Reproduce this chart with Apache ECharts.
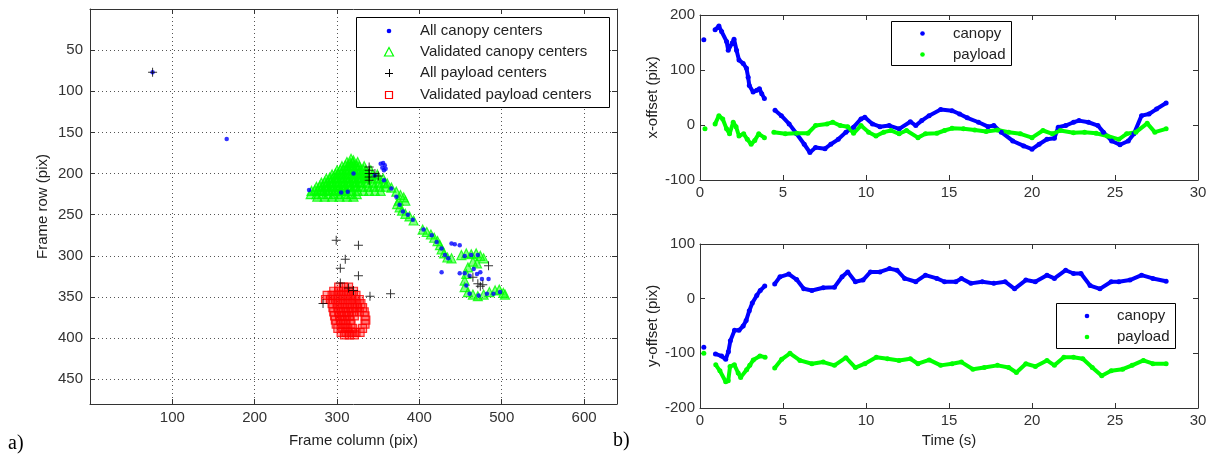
<!DOCTYPE html>
<html>
<head>
<meta charset="utf-8">
<script src="https://cdn.jsdelivr.net/npm/echarts@6/dist/echarts.min.js"></script>
<style>
  html, body { margin: 0; padding: 0; background: #fff; }
  #chart { width: 1210px; height: 455px; }
</style>
</head>
<body>
<div id="chart"></div>
<script>
// a) detected centres in the image frame, [column, row]
const allCanopy = [
  [76, 77], [166, 158], [266, 220], [305, 223], [313, 222], [320, 200],
  [353, 188], [356, 187], [358, 190], [355, 193], [359, 194], [357, 196], [346, 202], [357, 208],
  [366, 218], [372, 228], [376, 238], [380, 246], [386, 250], [392, 256], [405, 268], [415, 275],
  [421, 283], [427, 291], [431, 299], [435, 303], [439, 285], [443, 286], [449, 287], [427, 320],
  [455, 300], [463, 299], [471, 299], [449, 321], [455, 321], [461, 324], [466, 316], [470, 322],
  [474, 320], [476, 328], [484, 328], [457, 336], [461, 346], [472, 348], [482, 346], [490, 346],
  [498, 344]
];
const validCanopy = [
  [317, 182], [320, 184],
  [312, 186], [316, 187], [319, 186], [325, 186],
  [306, 191], [310, 190], [313, 191], [317, 190], [320, 191], [324, 190], [327, 191], [333, 191],
  [300, 196], [304, 195], [307, 196], [311, 195], [314, 196], [318, 195], [321, 196], [325, 195], [328, 196], [332, 195], [335, 196], [341, 196],
  [294, 201], [298, 200], [301, 201], [305, 200], [308, 201], [312, 200], [315, 201], [319, 200], [322, 201], [326, 200], [329, 201], [333, 200], [336, 201], [343, 201], [349, 201],
  [287, 206], [291, 205], [294, 206], [298, 205], [301, 206], [305, 205], [308, 206], [312, 205], [315, 206], [319, 205], [322, 206], [326, 205], [329, 206], [333, 205], [336, 206], [343, 206], [350, 206], [356, 206],
  [281, 211], [285, 210], [288, 211], [292, 210], [295, 211], [299, 210], [302, 211], [306, 210], [309, 211], [313, 210], [316, 211], [320, 210], [323, 211], [327, 210], [330, 211], [337, 211], [344, 211], [351, 211], [358, 211],
  [275, 216], [279, 215], [282, 216], [286, 215], [289, 216], [293, 215], [296, 216], [300, 215], [303, 216], [307, 215], [310, 216], [314, 215], [317, 216], [321, 215], [324, 216], [331, 216], [338, 216], [345, 216], [352, 216], [359, 216],
  [269, 221], [273, 220], [276, 221], [280, 220], [283, 221], [287, 220], [290, 221], [294, 220], [297, 221], [301, 220], [304, 221], [308, 220], [311, 221], [318, 221], [325, 221], [332, 221], [339, 221], [346, 221], [353, 221],
  [268, 225], [275, 225], [282, 225], [289, 225], [296, 225], [303, 225], [310, 225], [317, 225], [324, 225],
  [276, 228], [285, 228], [294, 228], [303, 228], [312, 228], [320, 228],
  [361, 212], [366, 217], [372, 222], [377, 226], [381, 229], [383, 233], [375, 233], [373, 237],
  [376, 241], [379, 245], [383, 249], [388, 252], [393, 257],
  [404, 268], [409, 271], [414, 274], [418, 278], [422, 282], [425, 287], [427, 292], [430, 297],
  [434, 302], [439, 303],
  [451, 299], [457, 297], [463, 298], [469, 297], [474, 300], [478, 303],
  [470, 309], [465, 307], [459, 314], [457, 322], [455, 330], [455, 338], [459, 344],
  [465, 347], [471, 349], [478, 347], [485, 344], [492, 342], [497, 341], [502, 345], [504, 347]
];
const allPayload = [
  [76, 77], [339, 192], [339, 196], [339, 200], [339, 204], [339, 208], [346, 200], [350, 203],
  [299, 281], [326, 287], [310, 304], [304, 315], [326, 324], [304, 333], [314, 339], [320, 342],
  [340, 349], [365, 346], [283, 358], [484, 312], [465, 326], [471, 334], [477, 335], [474, 337]
];
const validPayload = [
  [302, 338], [308, 338], [314, 338],
  [296, 343], [302, 343], [308, 343], [314, 343], [320, 343],
  [288, 348], [294, 348], [300, 348], [306, 348], [312, 348], [318, 348], [323, 348],
  [286, 353], [292, 353], [298, 353], [304, 353], [310, 353], [316, 353], [322, 353], [327, 353],
  [294, 358], [300, 358], [306, 358], [312, 358], [318, 358], [324, 358], [329, 358],
  [295, 363], [301, 363], [307, 363], [313, 363], [319, 363], [325, 363], [331, 363],
  [296, 368], [302, 368], [308, 368], [314, 368], [320, 368], [327, 368], [333, 368],
  [297, 373], [303, 373], [309, 373], [315, 373], [321, 373], [334, 373],
  [298, 378], [304, 378], [310, 378], [316, 378], [335, 378],
  [299, 383], [305, 383], [311, 383], [317, 383], [334, 383],
  [301, 388], [307, 388], [313, 388], [319, 388], [331, 388],
  [305, 393], [311, 393], [317, 393], [323, 393], [328, 393],
  [309, 396], [315, 396], [321, 396]
];
const framePointNames = [
  'All canopy centers', 'Validated canopy centers', 'All payload centers', 'Validated payload centers'
];

// b) offsets against time (s); null marks a gap in the track
const tXCanopy = [0.23, 0.6, 0.91, 1.14, 1.3, 1.6, 1.7, 1.94, 2.05, 2.2, 2.35, 2.6, 2.8, 2.9, 2.97,
  3.2, 3.42, 3.58, 3.72, 3.88, 4.2, 4.52, 4.9, 5.37, 5.82, 6.28, 6.62, 6.96, 7.53, 7.88, 8.33, 8.79,
  9.25, 9.7, 9.93, 10.39, 10.84, 11.4, 12, 12.67, 13, 13.36, 13.8, 14.5, 15.18, 15.64, 16.1, 16.78,
  17.35, 17.7, 18.15, 18.84, 19.5, 20, 20.43, 20.9, 21.35, 21.58, 22.03, 22.5, 22.83, 23.4, 23.97,
  24.3, 24.8, 25.3, 25.8, 26.14, 26.6, 27.05, 27.5, 28.08];
const xCanopy = [155, null, 173, 180, 170, 152, 136, 149, 156, 136, 118, 112, 103, 87, 72,
  60, 63, 66, 57, 48, null, 27, 17, 2, -16, -35, -50, -41, -43, -35, -26, -13,
  -4, 11, 14, 2, -3, -1, -7, 6, -1, 8, 17, 28, 26, 20, 13, 5,
  -3, -1, -13, -29, -38, -44, -35, -26, -24, -4, -1, 5, 8, 5, -1,
  -13, -29, -36, -29, -16, 17, 20, 29, 40];
const tXPayload = [0.3, 0.6, 0.91, 1.14, 1.37, 1.6, 1.78, 2.0, 2.17, 2.35, 2.63, 2.85, 3.08, 3.3,
  3.54, 3.88, 4.2, 4.45, 5.14, 5.82, 6.5, 6.96, 7.65, 8, 8.45, 8.9, 9.25, 9.7, 10.16, 10.6, 11.07,
  11.5, 12, 12.44, 13.13, 13.58, 14.27, 14.73, 15.18, 15.87, 16.55, 17.24, 17.92, 18.6, 19.3, 20,
  20.66, 21.23, 21.7, 22.5, 23.17, 23.86, 24.54, 25.23, 25.7, 26.26, 26.94, 27.4, 28.08];
const xPayload = [-7, null, 2, 17, 11, -7, -16, 5, -3, -20, -16, -26, -35, -28,
  -16, -23, null, -13, -16, -15, -15, -1, 2, 5, -1, -3, -15, -1, -13, -20, -13,
  -10, -16, -10, -23, -16, -15, -10, -6, -7, -9, -12, -9, -13, -16, -23,
  -10, -16, -10, -14, -13, -15, -20, -26, -16, -13, 3, -13, -7];
const tYCanopy = [0.23, 0.6, 0.93, 1.3, 1.55, 1.71, 1.83, 2.08, 2.35, 2.6, 2.78, 2.97, 3.15, 3.42,
  3.63, 3.9, 4.2, 4.5, 4.82, 5.35, 5.82, 6.25, 6.74, 7.42, 8.1, 8.56, 8.9, 9.36, 9.82, 10.27, 10.84,
  11.42, 11.87, 12.33, 13.0, 13.58, 14.27, 14.73, 15.41, 15.75, 16.32, 17.0, 17.7, 18.38, 18.95,
  19.63, 20.2, 20.9, 21.35, 22.03, 22.5, 22.95, 23.5, 24.09, 24.77, 25.23, 25.9, 26.6, 27.28, 28.08];
const yCanopy = [-89, null, -101, -105, -111, -97, -77, -58, -58, -50, -40, -22, -8, 6,
  15, 23, null, 27, 40, 45, 35, 18, 15, 20, 21, 40, 49, 31, 34, 49, 49,
  55, 52, 37, 31, 43, 37, 31, 31, 37, 28, 31, 28, 31, 18,
  34, 31, 43, 37, 52, 46, 46, 24, 18, 31, 31, 34, 43, 37, 32];
const tYPayload = [0.23, 0.6, 0.95, 1.2, 1.55, 1.7, 1.81, 2.07, 2.3, 2.45, 2.81, 3.0, 3.21, 3.61,
  3.92, 4.2, 4.5, 4.92, 5.42, 6.02, 6.74, 7.42, 8.1, 8.79, 9.36, 9.93, 10.62, 11.3, 11.99, 12.67,
  13.13, 13.81, 14.5, 15.18, 15.75, 16.44, 17.12, 17.92, 18.6, 19.06, 19.63, 20.2, 20.9, 21.35,
  21.92, 22.5, 23.06, 23.63, 24.2, 24.77, 25.46, 26.03, 26.71, 27.28, 28.08];
const yPayload = [-100, null, -121, -132, -152, -150, -124, -121, -136, -144, -130, -122, -112, -105,
  -107, null, -127, -111, -100, -113, -119, -116, -122, -108, -126, -119, -107, -110, -113, -110,
  -119, -112, -122, -119, -116, -129, -126, -122, -126, -135, -119, -124, -113, -122,
  -107, -107, -110, -126, -141, -132, -129, -122, -113, -119, -119];
const trackNames = ['canopy', 'payload'];

const FONT = '"Liberation Sans", Arial, sans-serif';
const INK = '#333';
const BLUE = '#0000ff', GREEN = '#00ff00', RED = '#ff0000';

const track = (t, v) => t.map((ti, i) => [ti, v[i] === null ? '-' : v[i]]);

// main axis plus a bare mirror on the opposite side, MATLAB "box on" style
function axisPair(dim, gridIndex, min, max, interval, cfg) {
  const base = {
    type: 'value', gridIndex, min, max, interval, inverse: !!cfg.inverse,
    axisLine: { show: true, onZero: false, lineStyle: { color: INK, width: 1 } },
    axisTick: { show: true, inside: true, length: 5, lineStyle: { color: INK, width: 1 } },
    splitLine: { show: false },
  };
  const main = Object.assign({}, base, {
    position: dim === 'x' ? 'bottom' : 'left',
    axisLabel: {
      color: INK, fontSize: 15, fontFamily: FONT, margin: cfg.margin,
      showMinLabel: true, showMaxLabel: true,
      formatter: cfg.formatter || (v => String(v)),
    },
    splitLine: cfg.grid
      ? { show: true, lineStyle: { color: '#555', width: 1, type: [1, 3] } }
      : { show: false },
  });
  if (cfg.name) {
    Object.assign(main, {
      name: cfg.name, nameLocation: 'middle', nameGap: cfg.nameGap,
      nameTextStyle: { color: '#222', fontSize: 15, fontFamily: FONT },
    });
  }
  const mirror = Object.assign({}, base, {
    position: dim === 'x' ? 'top' : 'right',
    axisLabel: { show: false },
  });
  return [main, mirror];
}

const hideEnds = (lo, hi) => v => (v === lo || v === hi ? '' : String(v));

const xAxes = [
  ...axisPair('x', 0, 0, 640, 100, { grid: true, margin: 6, formatter: hideEnds(0, 640), name: 'Frame column (pix)', nameGap: 29 }),
  ...axisPair('x', 1, 0, 30, 5, { margin: 5 }),
  ...axisPair('x', 2, 0, 30, 5, { margin: 5, name: 'Time (s)', nameGap: 25 }),
];
const yAxes = [
  ...axisPair('y', 0, 0, 480, 50, { grid: true, inverse: true, margin: 7, formatter: hideEnds(0, 480), name: 'Frame row (pix)', nameGap: 40 }),
  ...axisPair('y', 1, -100, 200, 100, { margin: 5, name: 'x-offset (pix)', nameGap: 40 }),
  ...axisPair('y', 2, -200, 100, 100, { margin: 5, name: 'y-offset (pix)', nameGap: 40 }),
];

const scatterBase = { type: 'scatter', xAxisIndex: 0, yAxisIndex: 0, silent: true, emphasis: { disabled: true } };
const lineBase = {
  type: 'line', showSymbol: true, showAllSymbol: true, symbol: 'circle', symbolSize: 5,
  connectNulls: false, silent: true, emphasis: { disabled: true }, lineStyle: { width: 4 },
};

const series = [
  Object.assign({}, scatterBase, {
    name: framePointNames[1], data: validCanopy, symbol: 'triangle', symbolSize: 9,
    itemStyle: { color: 'rgba(0,255,0,0.6)', borderColor: GREEN, borderWidth: 1.2 },
  }),
  Object.assign({}, scatterBase, {
    name: framePointNames[3], data: validPayload, symbol: 'rect', symbolSize: 8,
    itemStyle: { color: 'rgba(255,0,0,0.4)', borderColor: RED, borderWidth: 1.2 },
  }),
  Object.assign({}, scatterBase, {
    name: framePointNames[0], data: allCanopy, symbol: 'circle', symbolSize: 4.5,
    itemStyle: { color: BLUE },
  }),
  Object.assign({}, scatterBase, {
    name: framePointNames[2], data: allPayload, symbol: 'path://M4,0h1v9h-1z M0,4h9v1h-9z', symbolSize: 9,
    itemStyle: { color: '#000' },
  }),
  Object.assign({}, lineBase, { name: 'x ' + trackNames[0], xAxisIndex: 2, yAxisIndex: 2, data: track(tXCanopy, xCanopy), color: BLUE }),
  Object.assign({}, lineBase, { name: 'x ' + trackNames[1], xAxisIndex: 2, yAxisIndex: 2, data: track(tXPayload, xPayload), color: GREEN }),
  Object.assign({}, lineBase, { name: 'y ' + trackNames[0], xAxisIndex: 4, yAxisIndex: 4, data: track(tYCanopy, yCanopy), color: BLUE }),
  Object.assign({}, lineBase, { name: 'y ' + trackNames[1], xAxisIndex: 4, yAxisIndex: 4, data: track(tYPayload, yPayload), color: GREEN }),
];

// hand-drawn legends in the MATLAB style (white box, marker, label)
const txt = (text, x, y) => ({
  type: 'text', z: 101, style: { text, x, y, fill: '#222', fontSize: 15, fontFamily: FONT, verticalAlign: 'middle' },
});
const box = (x, y, w, h) => ({
  type: 'rect', z: 100, shape: { x: x + 0.5, y: y + 0.5, width: w, height: h },
  style: { fill: '#fff', stroke: '#000', lineWidth: 1 },
});
const dot = (cx, cy, color) => ({ type: 'circle', z: 101, shape: { cx, cy, r: 2.3 }, style: { fill: color } });

const graphic = [
  box(356, 17, 253, 90),
  dot(389, 31, BLUE),
  { type: 'polygon', z: 101, shape: { points: [[389, 47.5], [393.5, 56], [384.5, 56]] }, style: { fill: 'none', stroke: GREEN, lineWidth: 1.2 } },
  { type: 'line', z: 101, shape: { x1: 385, y1: 73.5, x2: 393, y2: 73.5 }, style: { stroke: '#000', lineWidth: 1 } },
  { type: 'line', z: 101, shape: { x1: 389.5, y1: 69, x2: 389.5, y2: 77 }, style: { stroke: '#000', lineWidth: 1 } },
  { type: 'rect', z: 101, shape: { x: 385.5, y: 91.5, width: 7, height: 7 }, style: { fill: 'none', stroke: RED, lineWidth: 1.2 } },
  txt(framePointNames[0], 420, 31),
  txt(framePointNames[1], 420, 52),
  txt(framePointNames[2], 420, 73),
  txt(framePointNames[3], 420, 95),

  box(891, 21, 120, 44),
  dot(922.5, 33.5, BLUE), dot(922.5, 54.5, GREEN),
  txt(trackNames[0], 953, 33.5), txt(trackNames[1], 953, 54.5),

  box(1056, 303, 119, 45),
  dot(1087, 316, BLUE), dot(1087, 337, GREEN),
  txt(trackNames[0], 1117, 316), txt(trackNames[1], 1117, 337),

  { type: 'text', z: 101, style: { text: 'a)', x: 8, y: 444, fill: '#000', fontSize: 20, fontFamily: '"Liberation Serif", "Times New Roman", serif', verticalAlign: 'middle' } },
  { type: 'text', z: 101, style: { text: 'b)', x: 613, y: 441, fill: '#000', fontSize: 20, fontFamily: '"Liberation Serif", "Times New Roman", serif', verticalAlign: 'middle' } },
];

const chart = echarts.init(document.getElementById('chart'), null, { renderer: 'canvas' });
chart.setOption({
  animation: false,
  backgroundColor: '#fff',
  textStyle: { fontFamily: FONT },
  grid: [
    { left: 90, top: 9, width: 527, height: 395, outerBoundsMode: 'none' },
    { left: 700, top: 15, width: 498, height: 165, outerBoundsMode: 'none' },
    { left: 700, top: 244, width: 498, height: 164, outerBoundsMode: 'none' },
  ],
  xAxis: xAxes,
  yAxis: yAxes,
  series,
  graphic,
});
window.addEventListener('resize', () => chart.resize());
</script>
</body>
</html>
